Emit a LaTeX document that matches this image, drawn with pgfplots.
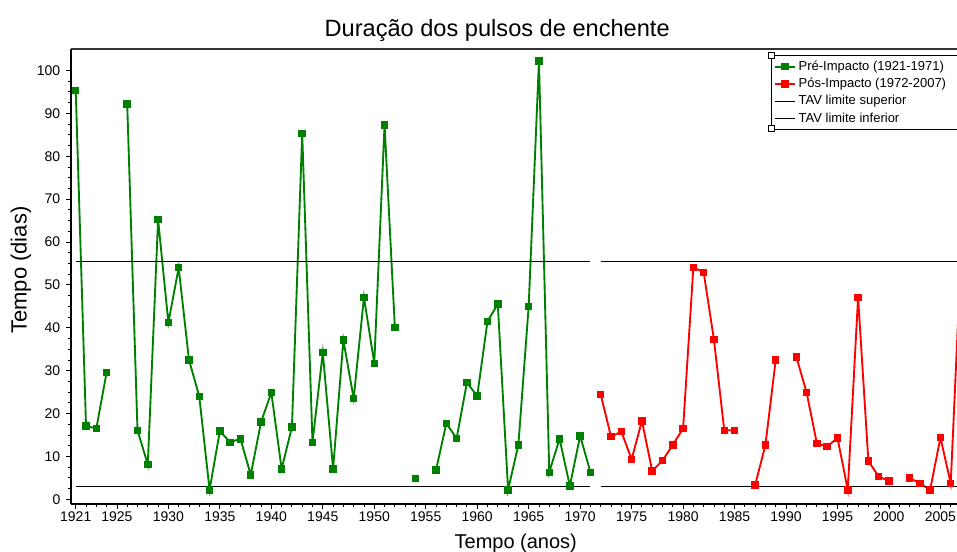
\documentclass[border=0pt]{standalone}
\usepackage{pgfplots}
\pgfplotsset{compat=1.18}
\usepackage{pgfplotstable}
\usetikzlibrary{calc}
\usepackage{fontspec}
\setmainfont{Liberation Sans}

\definecolor{pregreen}{RGB}{0,128,0}
\definecolor{posred}{RGB}{255,0,0}

% Duração (dias) por ano; nan = ano sem pulso
\pgfplotstableread{
ano  dias
1921 95.3
1922 17.1
1923 16.5
1924 29.6
1925 nan
1926 92.2
1927 16.1
1928 8.1
1929 65.2
1930 41.2
1931 54.0
1932 32.5
1933 24.0
1934 2.2
1935 15.9
1936 13.3
1937 14.1
1938 5.7
1939 18.0
1940 24.9
1941 7.1
1942 16.8
1943 85.3
1944 13.3
1945 34.2
1946 7.1
1947 37.1
1948 23.5
1949 47.1
1950 31.7
1951 87.3
1952 40.1
1953 nan
1954 4.8
1955 nan
1956 6.8
1957 17.7
1958 14.2
1959 27.2
1960 24.1
1961 41.5
1962 45.5
1963 2.2
1964 12.7
1965 45.0
1966 102.2
1967 6.3
1968 14.1
1969 3.1
1970 14.8
1971 6.3
}\pre

\pgfplotstableread{
ano  dias
1972 24.4
1973 14.6
1974 15.8
1975 9.3
1976 18.3
1977 6.6
1978 9.0
1979 12.7
1980 16.5
1981 54.1
1982 52.9
1983 37.2
1984 16.1
1985 16.1
1986 nan
1987 3.3
1988 12.7
1989 32.5
1990 nan
1991 33.2
1992 24.9
1993 13.0
1994 12.3
1995 14.3
1996 2.2
1997 47.1
1998 8.9
1999 5.3
2000 4.3
2001 nan
2002 5.0
2003 3.7
2004 2.2
2005 14.4
2006 3.7
2007 57.0
}\pos

\begin{document}
\begin{tikzpicture}
\begin{axis}[
    name=ax,
    scale only axis,
    width=664.5pt,
    height=341.25pt,
    xmin=1920.54, xmax=2006.61,
    ymin=-1.1, ymax=105,
    axis lines*=left,
    axis line style={black, line width=1.4pt},
    xtick={1921,1925,1930,1935,1940,1945,1950,1955,1960,1965,1970,1975,1980,1985,1990,1995,2000,2005},
    minor xtick={1921,...,2006},
    ytick={0,10,...,100},
    minor y tick num=3,
    tick align=outside,
    major tick length=3.5pt,
    minor tick length=2.5pt,
    tick style={black, line width=0.6pt},
    /pgf/number format/assume math mode=true,
    /pgf/number format/1000 sep={},
    ticklabel style={font=\fontsize{10.5}{12}\selectfont},
    xticklabel style={yshift=1pt},
    yticklabel style={xshift=-1pt},
    title={Duração dos pulsos de enchente},
    title style={font=\fontsize{17.7}{20}\selectfont, at={(axis description cs:0.481,1)}, anchor=base, yshift=3.2pt},
    xlabel={Tempo (anos)},
    xlabel style={font=\fontsize{15}{17}\selectfont, at={(axis description cs:0.502,0)}, anchor=base, yshift=-33.5pt},
    ylabel={Tempo (dias)},
    ylabel style={font=\fontsize{16.5}{19}\selectfont, at={(axis description cs:-0.050,0.514)}, anchor=base},
    unbounded coords=jump,
    legend cell align=left,
    legend style={at={(axis description cs:0.790,0.9868)}, anchor=north west,
        draw=black, line width=0.8pt, font=\fontsize{9.75}{11}\selectfont,
        inner sep=2pt, row sep=0.3pt},
    legend image code/.code={\draw[mark repeat=2,mark phase=2,#1] plot coordinates {(0pt,0pt) (7.5pt,0pt) (15pt,0pt)};},
]
\addplot[pregreen, line width=1.4pt, mark=square*, mark size=2.1pt, mark options={solid}] table[x=ano, y=dias] {\pre};
\addplot[posred, line width=1.4pt, mark=square*, mark size=2.1pt, mark options={solid}] table[x=ano, y=dias] {\pos};
\addplot[black, line width=0.8pt] coordinates {(1921,55.4) (1971,55.4) (1971.5,nan) (1972,55.4) (2007,55.4)};
\addplot[black, line width=0.8pt] coordinates {(1921,3.0) (1971,3.0) (1971.5,nan) (1972,3.0) (2007,3.0)};
\legend{\makebox[125pt][l]{Pré-Impacto (1921-1971)}, Pós-Impacto (1972-2007), TAV limite superior, TAV limite inferior}
\end{axis}
% moldura superior
\draw[gray!40!black, line width=1.2pt] (ax.north west) -- (ax.north east);
% alças de seleção da legenda
\foreach \yy in {0.9868,0.826} {
  \draw[black, fill=white, line width=0.5pt] ($(ax.south west)!\yy!(ax.north west) + (525pt,0)$) ++(-2.2pt,-2.2pt) rectangle ++(4.4pt,4.4pt);
}
\pgfresetboundingbox
\path[use as bounding box] (-53.25pt,-36pt) rectangle (664.5pt,378pt);
\end{tikzpicture}
\end{document}
